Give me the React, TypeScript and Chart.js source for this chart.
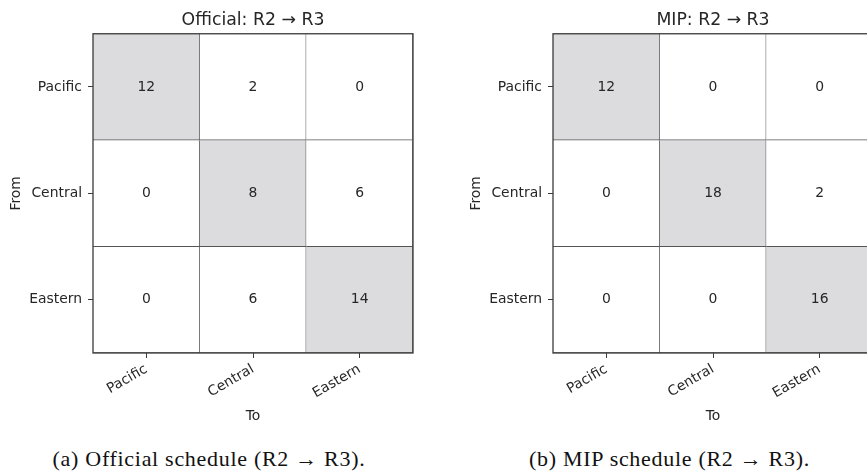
import React, { useEffect, useRef } from "react";
import { Chart, registerables } from "chart.js";

Chart.register(...registerables);

const regions = ["Pacific", "Central", "Eastern"];
const officialCounts = [
  [12, 2, 0],
  [0, 8, 6],
  [0, 6, 14],
];
const mipCounts = [
  [12, 0, 0],
  [0, 18, 2],
  [0, 0, 16],
];
const panelTitles = ["Official: R2 → R3", "MIP: R2 → R3"];
const captions = ["(a) Official schedule (R2 → R3).", "(b) MIP schedule (R2 → R3)."];

const FONT = "DejaVu Sans";
const TEXT = "#262626";
const TICK_SIZE = 13.9;

const valueLabels = {
  id: "valueLabels",
  afterDatasetsDraw(chart: any) {
    const ctx = chart.ctx;
    ctx.save();
    ctx.font = `${TICK_SIZE}px "${FONT}"`;
    ctx.fillStyle = TEXT;
    ctx.textAlign = "center";
    ctx.textBaseline = "middle";
    chart.data.datasets.forEach((ds: any, i: number) => {
      const meta = chart.getDatasetMeta(i);
      meta.data.forEach((bar: any, j: number) => {
        const p = bar.getCenterPoint();
        ctx.fillText(String(ds.counts[j]), p.x, p.y);
      });
    });
    ctx.restore();
  },
};

const frame = {
  id: "frame",
  afterDraw(chart: any) {
    const { left, top, right, bottom } = chart.chartArea;
    const ctx = chart.ctx;
    ctx.save();
    ctx.strokeStyle = "#3a3a3a";
    ctx.lineWidth = 1.3;
    ctx.strokeRect(left, top, right - left, bottom - top);
    ctx.restore();
  },
};

function makeConfig(counts: number[][], title: string): any {
  const datasets = counts.map((row, r) => ({
    label: regions[r],
    data: row.map(() => [r, r + 1]),
    counts: row,
    backgroundColor: row.map((_, c) => (c === r ? "#dcdcdf" : "#ffffff")),
    borderColor: "#555555",
    borderWidth: { top: 0, left: 0, right: 1, bottom: 1 },
    borderSkipped: false,
    grouped: false,
    barPercentage: 1,
    categoryPercentage: 1,
  }));
  return {
    type: "bar",
    data: { labels: regions, datasets },
    plugins: [valueLabels, frame],
    options: {
      animation: false,
      responsive: false,
      maintainAspectRatio: false,
      devicePixelRatio: 1,
      layout: { padding: { left: 0, right: 27, top: 0, bottom: 0 } },
      plugins: {
        legend: { display: false },
        tooltip: { enabled: false },
        title: {
          display: true,
          text: title,
          fullSize: false,
          color: TEXT,
          font: { family: FONT, size: 17.3, weight: "normal" },
          padding: { top: 10, bottom: 3 },
        },
      },
      scales: {
        x: {
          type: "category",
          offset: true,
          grid: {
            offset: false,
            drawOnChartArea: false,
            drawTicks: true,
            tickLength: 5,
            color: "#3a3a3a",
            lineWidth: 1,
          },
          border: { display: false },
          ticks: {
            autoSkip: false,
            minRotation: 30,
            maxRotation: 30,
            padding: 3,
            color: TEXT,
            font: { family: FONT, size: TICK_SIZE },
          },
          title: {
            display: true,
            text: "To",
            color: TEXT,
            font: { family: FONT, size: TICK_SIZE },
            padding: { top: 0, bottom: 5 },
          },
          afterFit: (s: any) => {
            s.height = 77;
          },
        },
        y: {
          type: "linear",
          min: 0,
          max: 3,
          reverse: true,
          afterBuildTicks: (s: any) => {
            s.ticks = [0.5, 1.5, 2.5].map((v) => ({ value: v }));
          },
          grid: {
            drawOnChartArea: false,
            drawTicks: true,
            tickLength: 5,
            color: "#3a3a3a",
            lineWidth: 1,
          },
          border: { display: false },
          ticks: {
            padding: 6,
            color: TEXT,
            font: { family: FONT, size: TICK_SIZE },
            callback: (_v: any, i: number) => regions[i],
          },
          title: {
            display: true,
            text: "From",
            color: TEXT,
            font: { family: FONT, size: TICK_SIZE },
            padding: { top: 8, bottom: 0 },
          },
          afterFit: (s: any) => {
            s.width = 93;
          },
        },
      },
    },
  };
}

export default function App() {
  const leftRef = useRef<HTMLCanvasElement>(null);
  const rightRef = useRef<HTMLCanvasElement>(null);

  useEffect(() => {
    document.body.style.margin = "0";
    Chart.defaults.font.family = FONT;
    const a = new Chart(leftRef.current!, makeConfig(officialCounts, panelTitles[0]));
    const b = new Chart(rightRef.current!, makeConfig(mipCounts, panelTitles[1]));
    return () => {
      a.destroy();
      b.destroy();
    };
  }, []);

  const capStyle: React.CSSProperties = {
    position: "absolute",
    top: 446,
    height: 26,
    lineHeight: "26px",
    textAlign: "center",
    fontFamily: '"Liberation Serif", serif',
    fontSize: 22,
    letterSpacing: 0.7,
    color: "#111",
    whiteSpace: "nowrap",
  };

  return (
    <div style={{ position: "relative", width: 867, height: 472, overflow: "hidden", background: "#fff" }}>
      <canvas ref={leftRef} width={440} height={430} style={{ position: "absolute", left: 0, top: 0, width: 440, height: 430 }} />
      <canvas ref={rightRef} width={440} height={430} style={{ position: "absolute", left: 460, top: 0, width: 440, height: 430 }} />
      <div style={{ ...capStyle, left: 0, width: 418 }}>{captions[0]}</div>
      <div style={{ ...capStyle, left: 460, width: 419 }}>{captions[1]}</div>
    </div>
  );
}
